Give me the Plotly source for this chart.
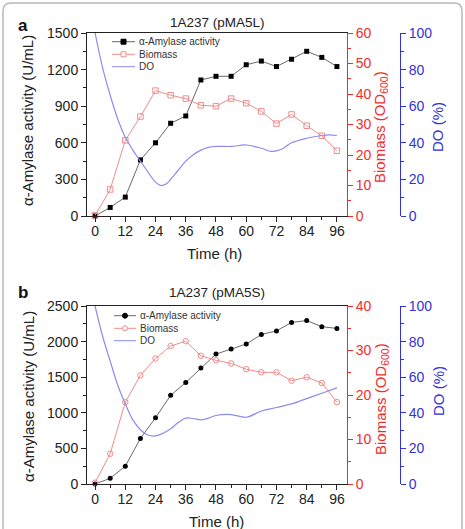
import plotly.graph_objects as go

# ---------------- data ----------------
time_h = [0, 6, 12, 18, 24, 30, 36, 42, 48, 54, 60, 66, 72, 78, 84, 90, 96]

# panel a : 1A237 (pMA5L)
amylase_a = [0, 70, 155, 460, 600, 760, 820, 1115, 1145, 1145, 1240, 1270, 1225, 1285, 1350, 1300, 1225]
biomass_a = [0.2, 8.7, 24.8, 32.6, 41.1, 39.6, 38.5, 36.3, 36.0, 38.5, 37.0, 34.3, 30.3, 33.3, 29.6, 26.3, 21.4]
do_time_a = [0, 3, 6, 9, 12, 15, 18, 21, 24, 26, 28, 30, 33, 36, 39, 42, 45, 48, 54, 60, 66, 70, 74, 78, 84, 90, 93, 96]
do_a = [100, 81, 66, 53, 43, 36, 30, 24, 18.5, 16.7, 17.3, 20, 25, 30, 33.5, 36, 37.5, 38, 38, 38.8, 37, 35.3, 36.5, 40, 42.5, 44, 44.3, 44]

# panel b : 1A237 (pMA5S)
amylase_b = [0, 80, 250, 640, 930, 1245, 1425, 1630, 1825, 1895, 1965, 2100, 2150, 2270, 2295, 2210, 2185]
biomass_b = [0.3, 6.8, 18.4, 24.4, 28.2, 31.0, 32.1, 28.8, 27.8, 27.1, 25.8, 25.1, 25.1, 23.2, 24.0, 22.7, 18.4]
do_time_b = [0, 3, 6, 9, 12, 15, 18, 21, 24, 27, 30, 33, 36, 39, 42, 45, 48, 54, 60, 66, 72, 78, 84, 90, 96]
do_b = [100, 83, 69, 55.5, 45, 36, 30.5, 27.5, 27, 28.5, 31, 34.5, 37, 36.8, 36, 37, 38.5, 39, 37.5, 41, 43, 45, 48, 51, 54]

x_ticks = [0, 12, 24, 36, 48, 60, 72, 84, 96]
legend_names = ["α-Amylase activity", "Biomass", "DO"]
titles = ["1A237 (pMA5L)", "1A237 (pMA5S)"]
panel_letters = ["a", "b"]
x_title = "Time (h)"
y_left_title = "α-Amylase activity (U/mL)"
y_red_title = "Biomass (OD<sub>600</sub>)"
y_blue_title = "DO (%)"

# ---------------- styling ----------------
W, H = 465, 529
ML, MR, MT, MB = 87, 20, 33, 45
PW = W - ML - MR
PH = H - MT - MB

def px(xp):
    return (xp - ML) / PW

def py(yp):
    return (H - MB - yp) / PH

BLACK_LINE = "#6a6a6a"
RED_LINE = "rgb(240,140,140)"
RED_AX = "rgb(240,45,45)"
BLUE_LINE = "rgb(140,140,238)"
BLUE_AX = "rgb(50,50,215)"
TXT = "#222"
FONT = "Liberation Sans, Arial, sans-serif"

x_dom = [0, px(347)]
blue_pos = px(400)
top_dom = [py(216), 1.0]
bot_dom = [0.0, py(306)]

fig = go.Figure()

def add_panel(amy, bio, dt, do, ya, yb, yc, xa, sym_amy, sym_bio):
    fig.add_trace(go.Scatter(x=time_h, y=amy, mode="lines+markers", xaxis=xa, yaxis=ya,
                             line=dict(color=BLACK_LINE, width=1),
                             marker=dict(symbol=sym_amy, size=5, color="black"),
                             cliponaxis=False, showlegend=False, name=legend_names[0]))
    fig.add_trace(go.Scatter(x=time_h, y=bio, mode="lines+markers", xaxis=xa, yaxis=yb,
                             line=dict(color=RED_LINE, width=1),
                             marker=dict(symbol=sym_bio, size=5.5, color=RED_LINE, line=dict(width=1, color=RED_LINE)),
                             cliponaxis=False, showlegend=False, name=legend_names[1]))
    fig.add_trace(go.Scatter(x=dt, y=do, mode="lines", xaxis=xa, yaxis=yc,
                             line=dict(color=BLUE_LINE, width=1.2, shape="spline", smoothing=1.0),
                             showlegend=False, name=legend_names[2]))

add_panel(amylase_a, biomass_a, do_time_a, do_a, "y", "y2", "y3", "x", "square", "square-open")
add_panel(amylase_b, biomass_b, do_time_b, do_b, "y4", "y5", "y6", "x2", "circle", "circle-open")

tickfont = dict(family=FONT, size=14, color=TXT)

def xaxis(anchor):
    return dict(domain=x_dom, anchor=anchor, range=[-3.2, 100], tickvals=x_ticks,
                showline=True, linecolor=TXT, linewidth=1, mirror=True,
                ticks="outside", ticklen=5, tickcolor=TXT, ticklabelstandoff=-3,
                minor=dict(dtick=6, tick0=0, ticks="outside", ticklen=3, tickcolor=TXT),
                showgrid=False, zeroline=False, tickfont=tickfont)

def yleft(dom, anchor, rng, dt, mdt):
    return dict(domain=dom, anchor=anchor, range=rng, dtick=dt, tick0=0,
                showline=True, linecolor=TXT, linewidth=1,
                ticks="outside", ticklen=5, tickcolor=TXT,
                minor=dict(dtick=mdt, ticks="outside", ticklen=3, tickcolor=TXT),
                showgrid=False, zeroline=False, tickfont=tickfont)

def yred(over, xa, rng, dt, mdt):
    return dict(overlaying=over, anchor=xa, side="right", range=rng, dtick=dt, tick0=0,
                showline=True, linecolor=RED_AX, linewidth=1,
                ticks="outside", ticklen=5, tickcolor=RED_AX,
                minor=dict(dtick=mdt, ticks="outside", ticklen=3, tickcolor=RED_AX),
                showgrid=False, zeroline=False,
                tickfont=dict(family=FONT, size=14, color=RED_AX))

def yblue(over):
    return dict(overlaying=over, anchor="free", position=blue_pos, side="right", range=[0, 100], dtick=20, tick0=0,
                showline=True, linecolor=BLUE_AX, linewidth=1,
                ticks="outside", ticklen=5, tickcolor=BLUE_AX,
                minor=dict(dtick=10, ticks="outside", ticklen=3, tickcolor=BLUE_AX),
                showgrid=False, zeroline=False,
                tickfont=dict(family=FONT, size=14, color=BLUE_AX))

shapes = []
annotations = []

def ann(text, x, y, size, color, angle=0, xanchor="center"):
    annotations.append(dict(text=text, xref="paper", yref="paper", x=px(x), y=py(y),
                            xanchor=xanchor, yanchor="middle", showarrow=False, textangle=angle,
                            font=dict(family=FONT, size=size, color=color)))

# ---------- legends (drawn manually to match compact spacing) ----------
def legend(rows_y, x0, x1, xt, sym_amy, sym_bio):
    xm = (x0 + x1) / 2
    cols = [(BLACK_LINE, "black", True), (RED_LINE, RED_LINE, False), (BLUE_LINE, None, None)]
    syms = [sym_amy, sym_bio, None]
    for i, ry in enumerate(rows_y):
        lc, mc, filled = cols[i]
        shapes.append(dict(type="line", xref="paper", yref="paper", x0=px(x0), x1=px(x1), y0=py(ry), y1=py(ry),
                           line=dict(color=lc, width=1)))
        if syms[i] is not None:
            r = 2.5
            shapes.append(dict(type=syms[i], xref="paper", yref="paper",
                               x0=px(xm - r), x1=px(xm + r), y0=py(ry + r), y1=py(ry - r),
                               line=dict(color=mc, width=1),
                               fillcolor=mc if filled else "white"))
        ann(legend_names[i], xt, ry, 10, "#333", xanchor="left")

legend([41.7, 54.3, 66.7], 112, 135, 137, "rect", "rect")
legend([315.7, 328.3, 340.7], 114, 136, 138, "circle", "circle")

# titles, panel letters and axis titles
for title, yp in zip(titles, [23, 293]):
    ann(title, 217, yp, 13.5, TXT)
for letter, yp in zip(panel_letters, [26, 293]):
    ann("<b>%s</b>" % letter, 16, yp, 17, "#111", xanchor="left")

for (yc_left, yc_red, yc_blue, yc_time, xc_time) in [(121, 127, 127, 253, 214), (397, 399, 391, 521, 216)]:
    ann(y_left_title, 28, yc_left, 15, TXT, angle=-90)
    ann(y_red_title, 381, yc_red, 15, RED_AX, angle=-90)
    ann(y_blue_title, 438, yc_blue, 15, BLUE_AX, angle=-90)
    ann(x_title, xc_time, yc_time, 15, TXT)

# rounded outer frame
fx0, fx1, fy0, fy1, rr = 3, 462, 3, 540, 8
path = ("M {a},{b} L {a},{c} Q {a},{d} {e},{d} L {f},{d} Q {g},{d} {g},{c} L {g},{b}"
        .format(a=px(fx0), b=py(fy1), c=py(fy0 + rr), d=py(fy0), e=px(fx0 + rr), f=px(fx1 - rr), g=px(fx1)))
shapes.append(dict(type="path", xref="paper", yref="paper", path=path, line=dict(color="#b8b8b8", width=1.5)))

fig.update_layout(
    width=W, height=H, margin=dict(l=ML, r=MR, t=MT, b=MB),
    paper_bgcolor="white", plot_bgcolor="white", showlegend=False,
    font=dict(family=FONT),
    xaxis=xaxis("y"), xaxis2=xaxis("y4"),
    yaxis=yleft(top_dom, "x", [0, 1500], 300, 150),
    yaxis2=yred("y", "x", [0, 60], 10, 5), yaxis3=yblue("y"),
    yaxis4=yleft(bot_dom, "x2", [0, 2500], 500, 250),
    yaxis5=yred("y4", "x2", [0, 40], 10, 5), yaxis6=yblue("y4"),
    shapes=shapes, annotations=annotations,
)

fig.write_html("out.html")
